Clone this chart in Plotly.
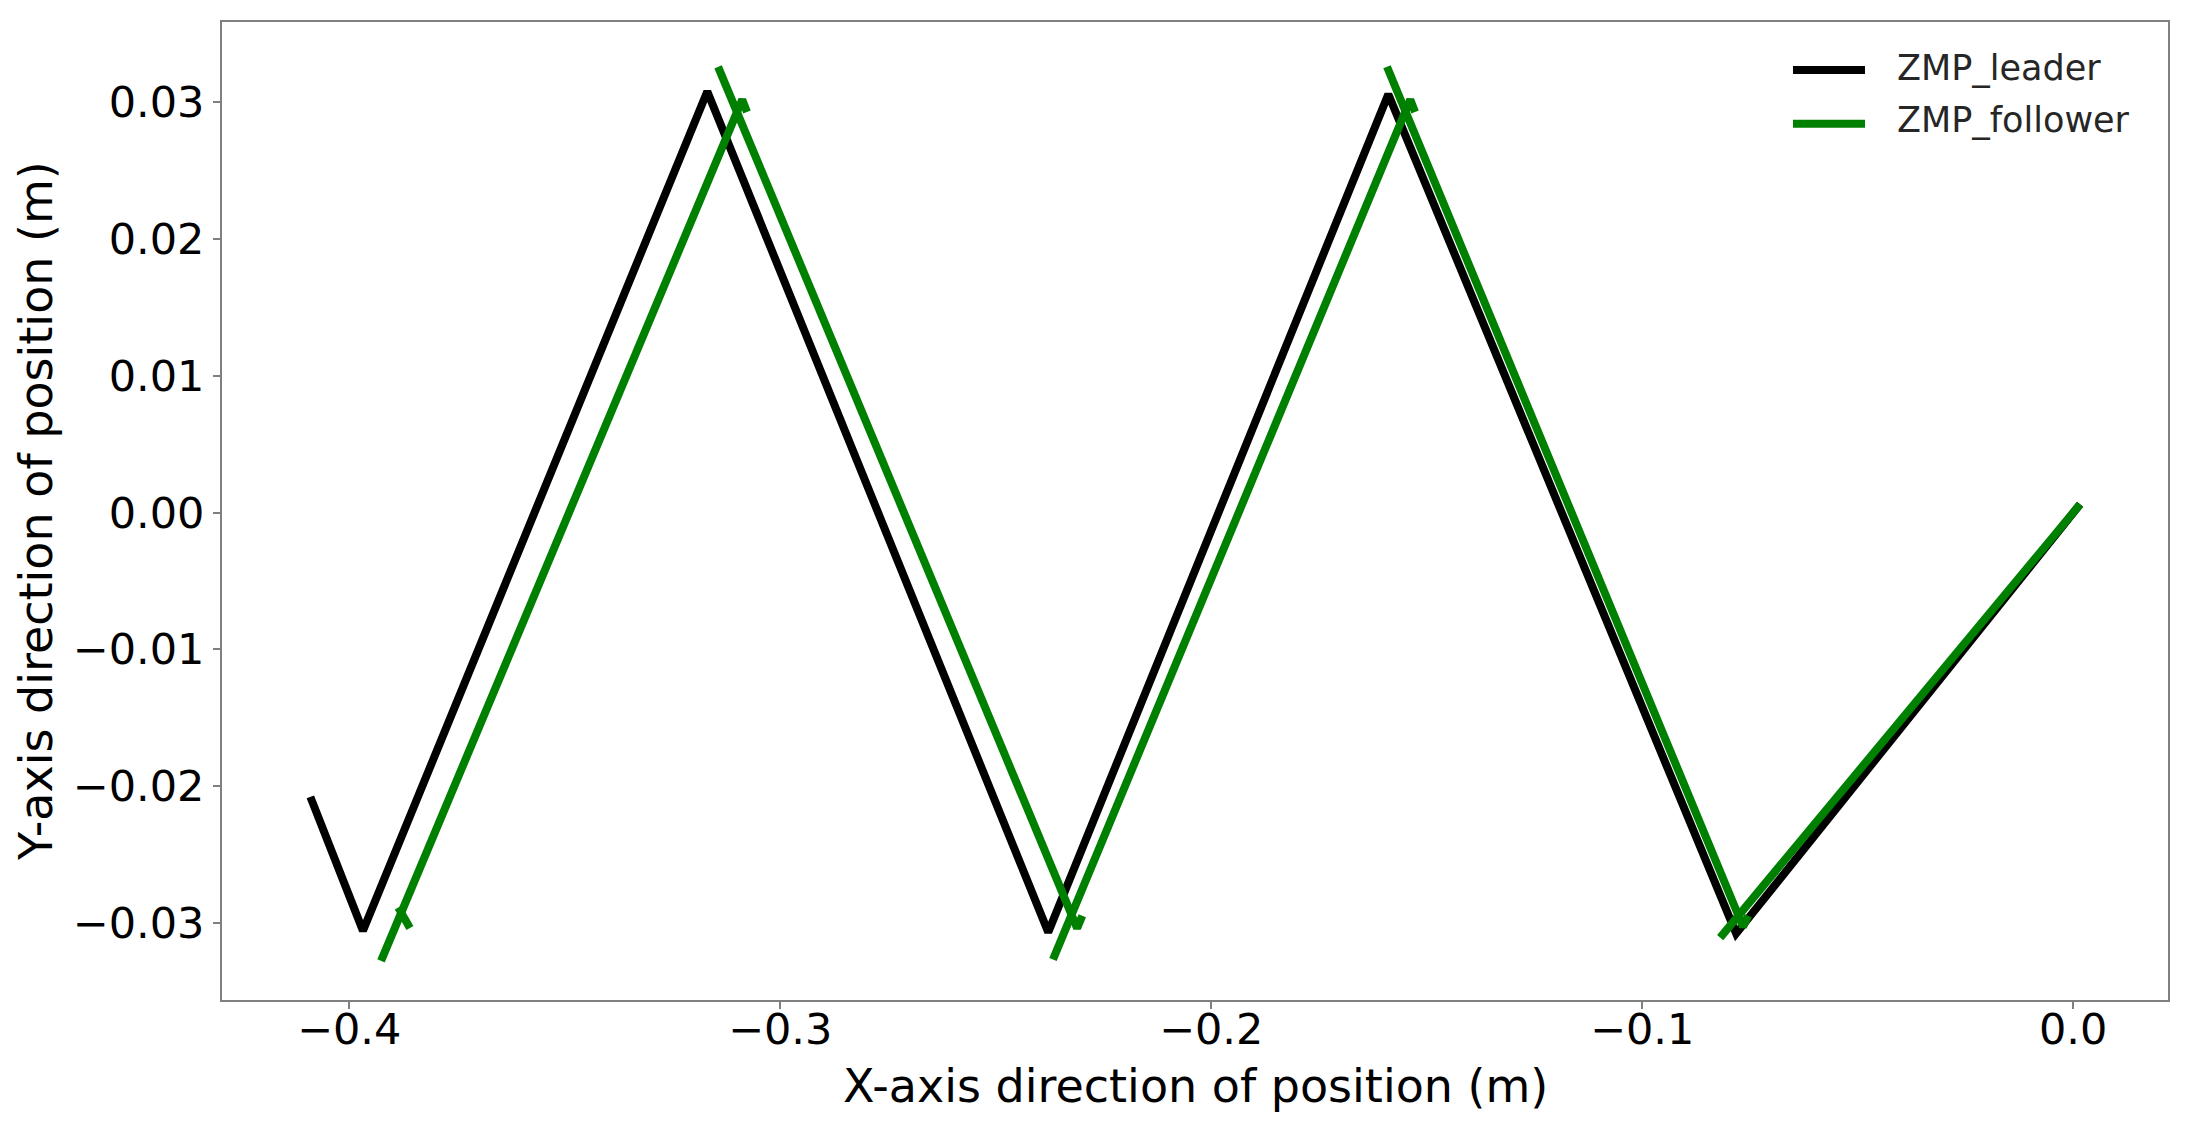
import plotly.graph_objects as go

# ---- data ----
leader_x = [-0.4090, -0.3968, -0.3169, -0.2378, -0.1589, -0.0782, 0.0016]
leader_y = [-0.0208, -0.0306, 0.0308, -0.0307, 0.0306, -0.0308, 0.0006]

# follower: separate strokes (None = gap between strokes)
follower_x = [-0.3886, -0.3859, None,
              -0.3926, -0.3088, -0.3077, None,
              -0.3144, -0.2311, -0.2299, None,
              -0.2367, -0.1538, -0.1527, None,
              -0.1592, -0.0766, -0.0754, None,
              -0.0819, 0.0016]
follower_y = [-0.0289, -0.0304, None,
              -0.0328, 0.0302, 0.0293, None,
              0.0326, -0.0304, -0.0295, None,
              -0.0327, 0.0302, 0.0293, None,
              0.0326, -0.0303, -0.0295, None,
              -0.0311, 0.0006]

x_ticks = [-0.4, -0.3, -0.2, -0.1, 0.0]
y_ticks = [-0.03, -0.02, -0.01, 0.00, 0.01, 0.02, 0.03]

series_names = ["ZMP_leader", "ZMP_follower"]
series_colors = ["black", "#008000"]

FONT = "DejaVu Sans"
FRAME = "#808080"
LW = 8

fig = go.Figure()
fig.add_trace(go.Scatter(x=leader_x, y=leader_y, mode="lines", name=series_names[0],
                         showlegend=False,
                         line=dict(color=series_colors[0], width=LW)))
fig.add_trace(go.Scatter(x=follower_x, y=follower_y, mode="lines", name=series_names[1],
                         connectgaps=False, showlegend=False,
                         line=dict(color=series_colors[1], width=LW)))

# page body has an 8px margin -> compensate in figure size / margins
fig.update_layout(
    width=2180, height=1120,
    margin=dict(l=214, r=20, t=12, b=128),
    paper_bgcolor="white", plot_bgcolor="white",
    font=dict(family=FONT, color="black", size=43),
    showlegend=False,
)

# legend drawn in paper coordinates (long line samples like the reference)
leg_line_y = [0.9510, 0.8959]
leg_text_y = [0.9531, 0.9000]
shapes = []
annotations = []
for name, col, ly, ty in zip(series_names, series_colors, leg_line_y, leg_text_y):
    shapes.append(dict(type="line", xref="paper", yref="paper",
                       x0=0.8073, x1=0.8443, y0=ly, y1=ly,
                       line=dict(color=col, width=LW)))
    annotations.append(dict(text=name, xref="paper", yref="paper",
                            x=0.8597, y=ty, xanchor="left", yanchor="middle",
                            showarrow=False,
                            font=dict(family=FONT, size=35, color="#262626")))

# axis titles
annotations.append(dict(text="X-axis direction of position (m)", xref="paper", yref="paper",
                        x=0.5, y=-0.088, xanchor="center", yanchor="middle", showarrow=False,
                        font=dict(family=FONT, size=46, color="black")))
annotations.append(dict(text="Y-axis direction of position (m)", xref="paper", yref="paper",
                        x=-0.0956, y=0.5, xanchor="center", yanchor="middle", showarrow=False,
                        textangle=-90,
                        font=dict(family=FONT, size=46, color="black")))
fig.update_layout(shapes=shapes, annotations=annotations)

fig.update_xaxes(
    range=[-0.4295, 0.0220], tickvals=x_ticks, tickformat=".1f",
    showgrid=False, zeroline=False,
    showline=True, mirror=True, linecolor=FRAME, linewidth=2,
    ticks="outside", ticklen=7, tickwidth=2, tickcolor=FRAME,
    ticklabelstandoff=-17,
    tickfont=dict(family=FONT, size=43, color="black"),
)
fig.update_yaxes(
    range=[-0.03566, 0.03588], tickvals=y_ticks, tickformat=".2f",
    showgrid=False, zeroline=False,
    showline=True, mirror=True, linecolor=FRAME, linewidth=2,
    ticks="outside", ticklen=7, tickwidth=2, tickcolor=FRAME,
    tickfont=dict(family=FONT, size=43, color="black"),
)

fig.write_html("out.html")
